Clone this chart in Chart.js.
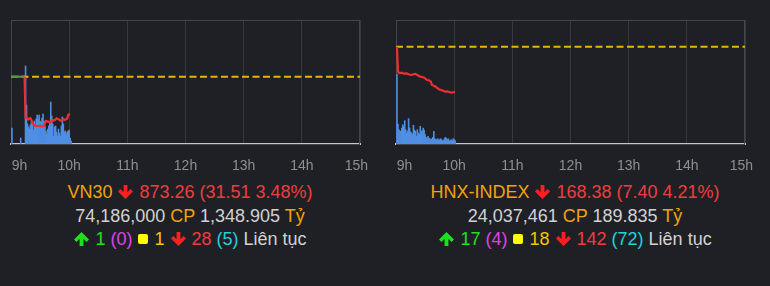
<!DOCTYPE html>
<html>
<head>
<meta charset="utf-8">
<script src="https://cdn.jsdelivr.net/npm/chart.js@4.4.1/dist/chart.umd.min.js"></script>
<style>
body{margin:0;background:#1f2025;width:770px;height:286px;overflow:hidden;font-family:"Liberation Sans",Arial,sans-serif;}
.panel{position:absolute;top:0;width:380px;height:286px;}
.panel canvas{position:absolute;left:0;top:0;}
.info{position:absolute;top:181px;left:0;width:380px;text-align:center;font-size:18px;line-height:23.5px;color:#d2d2d2;white-space:nowrap;}
.o{color:#f5a20c}
.r{color:#ef3d3d}
.g{color:#1ee01e}
.m{color:#e040e8}
.y{color:#f2c500}
.c{color:#22d0dc}
.ar{vertical-align:-1px;margin:0 1px}
.sq{display:inline-block;width:10px;height:10px;background:#ffff00;border-radius:2px;vertical-align:1px;margin:0 1px}
</style>
</head>
<body>

<div class="panel" style="left:0">
  <canvas id="vn30" width="380" height="180"></canvas>
  <div class="info">
    <div><span class="o">VN30</span> <svg class="ar" width="15" height="14" viewBox="0 0 15 14"><path d="M5.6 0H9.4V7.2L12.6 4L15 6.4L7.5 13.9L0 6.4L2.4 4L5.6 7.2Z" fill="#ff1f1f"/></svg> <span class="r">873.26 (31.51 3.48%)</span></div>
    <div>74,186,000 <span class="o">CP</span> 1,348.905 <span class="o">Tỷ</span></div>
    <div><svg class="ar" width="15" height="14" viewBox="0 0 15 14"><path d="M5.6 14H9.4V6.8L12.6 10L15 7.6L7.5 0.1L0 7.6L2.4 10L5.6 6.8Z" fill="#1ee01e"/></svg> <span class="g">1</span> <span class="m">(0)</span> <i class="sq"></i> <span class="y">1</span> <svg class="ar" width="15" height="14" viewBox="0 0 15 14"><path d="M5.6 0H9.4V7.2L12.6 4L15 6.4L7.5 13.9L0 6.4L2.4 4L5.6 7.2Z" fill="#ff1f1f"/></svg> <span class="r">28</span> <span class="c">(5)</span> Liên tục</div>
  </div>
</div>

<div class="panel" style="left:385px">
  <canvas id="hnx" width="380" height="180"></canvas>
  <div class="info">
    <div><span class="o">HNX-INDEX</span> <svg class="ar" width="15" height="14" viewBox="0 0 15 14"><path d="M5.6 0H9.4V7.2L12.6 4L15 6.4L7.5 13.9L0 6.4L2.4 4L5.6 7.2Z" fill="#ff1f1f"/></svg> <span class="r">168.38 (7.40 4.21%)</span></div>
    <div>24,037,461 <span class="o">CP</span> 189.835 <span class="o">Tỷ</span></div>
    <div><svg class="ar" width="15" height="14" viewBox="0 0 15 14"><path d="M5.6 14H9.4V6.8L12.6 10L15 7.6L7.5 0.1L0 7.6L2.4 10L5.6 6.8Z" fill="#1ee01e"/></svg> <span class="g">17</span> <span class="m">(4)</span> <i class="sq"></i> <span class="y">18</span> <svg class="ar" width="15" height="14" viewBox="0 0 15 14"><path d="M5.6 0H9.4V7.2L12.6 4L15 6.4L7.5 13.9L0 6.4L2.4 4L5.6 7.2Z" fill="#ff1f1f"/></svg> <span class="r">142</span> <span class="c">(72)</span> Liên tục</div>
  </div>
</div>

<script>
// Hour labels for the session axis (minutes after 9:00, one label every 60 min)
const hourTicks = ['9h', '10h', '11h', '12h', '13h', '14h', '15h'];

// VN30 - reference price, index line (minute, value), volume (minute, thousand shares)
const vn30Ref = 904.77;
const vn30LineMin = [0, 14, 15, 17, 18, 20, 21, 22, 24, 25, 27, 29, 30, 32, 34, 35, 36, 38, 39, 40, 42, 43, 44, 46, 47, 49, 50, 51, 53, 54, 55, 57, 58, 59, 60, 61];
const vn30Line = [904.77, 904.77, 870.10, 869.78, 868.94, 869.78, 868.38, 865.58, 864.18, 863.62, 863.34, 863.34, 863.62, 862.78, 863.34, 865.58, 867.54, 866.98, 866.98, 866.14, 867.82, 868.38, 867.82, 868.94, 869.78, 868.94, 868.38, 867.82, 868.38, 868.94, 868.38, 868.94, 869.78, 872.59, 873.10, 873.26];
const vn30VolMin = [1, 10, 15, 16, 17, 18, 19, 20, 21, 22, 23, 24, 25, 26, 27, 28, 29, 30, 31, 32, 33, 34, 35, 36, 37, 38, 39, 40, 41, 42, 43, 44, 45, 46, 47, 48, 49, 50, 51, 52, 53, 54, 55, 56, 57, 58, 59, 60, 61, 62];
const vn30Vol = [1280, 480, 6240, 3120, 1600, 1360, 1200, 1520, 1760, 1600, 1120, 1840, 1520, 2000, 2320, 2000, 2320, 1840, 1760, 2080, 2400, 1840, 1440, 1040, 800, 1200, 1440, 1760, 3360, 2240, 1600, 640, 1360, 1440, 960, 640, 1200, 880, 640, 1440, 2160, 1600, 960, 1040, 800, 960, 1040, 1120, 480, 240];

// HNX-INDEX
const hnxRef = 175.78;
const hnxLineMin = [0, 1, 2, 4, 6, 8, 11, 13, 15, 18, 20, 22, 25, 27, 29, 30, 32, 34, 36, 37, 39, 41, 42, 44, 46, 48, 49, 51, 53, 54, 56, 58, 60, 61];
const hnxLine = [175.78, 175.78, 171.67, 171.40, 171.51, 171.34, 171.40, 171.24, 171.13, 171.24, 171.29, 171.13, 170.85, 170.80, 170.69, 170.58, 170.30, 170.25, 170.03, 169.48, 169.37, 169.21, 169.04, 168.82, 168.66, 168.60, 168.49, 168.38, 168.44, 168.38, 168.27, 168.22, 168.33, 168.38];
const hnxVolMin = [1, 2, 3, 4, 5, 6, 7, 8, 9, 10, 11, 12, 13, 14, 15, 16, 17, 18, 19, 20, 21, 22, 23, 24, 25, 26, 27, 28, 29, 30, 31, 32, 33, 34, 35, 36, 37, 38, 39, 40, 41, 42, 43, 44, 45, 46, 47, 48, 49, 50, 51, 52, 53, 54, 55, 56, 57, 58, 59, 60, 61];
const hnxVol = [2800, 800, 572, 520, 508, 640, 772, 680, 932, 572, 440, 520, 1012, 640, 480, 440, 372, 748, 560, 508, 308, 572, 440, 372, 708, 520, 508, 640, 560, 372, 268, 212, 308, 240, 212, 172, 200, 268, 508, 212, 180, 172, 212, 172, 160, 212, 172, 132, 140, 212, 268, 220, 172, 212, 132, 140, 172, 108, 212, 180, 132];

const UP = '#4f9a3c', DOWN = '#ee2f2f', REF = '#e7b400', BAR = '#4f8fe3';

// Plot frame + hour labels (labels kept inside the panel like the original)
const framePlugin = {
    id: 'frame',
    beforeDatasetsDraw(chart) {
        const a = chart.chartArea, c = chart.ctx;
        c.save();
        c.strokeStyle = '#45464b';
        c.lineWidth = 1;
        c.strokeRect(a.left + 0.5, a.top + 0.5, a.right - a.left - 1, a.bottom - a.top);
        c.restore();
    },
    afterDraw(chart) {
        const a = chart.chartArea, c = chart.ctx, xs = chart.scales.x;
        c.save();
        c.font = '14px "Liberation Sans", Arial, sans-serif';
        c.fillStyle = '#8f8f8f';
        c.textBaseline = 'middle';
        c.textAlign = 'left';
        xs.ticks.forEach(t => {
            const label = hourTicks[Math.round(t.value / 60)];
            const w = c.measureText(label).width;
            let left = xs.getPixelForValue(t.value) - w / 2;
            if (left < a.left + 0.7) left = a.left + 0.7;
            if (left + w > a.right + 8) left = a.right + 8 - w;
            c.fillText(label, left, a.bottom + 22);
        });
        c.restore();
    }
};

function drawChart(id, lineMin, line, volMin, vol, ref, yMin, yMax, volMax) {
    const ctx = document.getElementById(id);
    return new Chart(ctx, {
        type: 'line',
        data: {
            datasets: [
                {
                    data: lineMin.map((m, i) => ({x: m, y: line[i]})),
                    borderWidth: 2.2,
                    pointRadius: 0,
                    tension: 0,
                    yAxisID: 'y',
                    order: 0,
                    segment: {
                        borderColor: s => (s.p1.parsed.y >= ref && s.p0.parsed.y >= ref) ? UP : DOWN
                    }
                },
                {
                    data: [{x: 0, y: ref}, {x: 360, y: ref}],
                    borderColor: REF,
                    borderWidth: 2,
                    borderDash: [7, 3.5],
                    pointRadius: 0,
                    yAxisID: 'y',
                    order: 1
                },
                {
                    type: 'bar',
                    data: volMin.map((m, i) => ({x: m, y: vol[i]})),
                    backgroundColor: BAR,
                    borderWidth: 0,
                    barPercentage: 1,
                    categoryPercentage: 1,
                    yAxisID: 'yv',
                    order: 2
                }
            ]
        },
        options: {
            responsive: false,
            animation: false,
            layout: {padding: {left: 11, right: 20, top: 20, bottom: 36}},
            plugins: {legend: {display: false}, tooltip: {enabled: false}},
            events: [],
            scales: {
                x: {
                    type: 'linear',
                    min: 0,
                    max: 360,
                    offset: false,
                    ticks: {display: false, stepSize: 60},
                    grid: {color: '#38393e', drawTicks: false, offset: false},
                    border: {display: true, color: '#c3c7d1', width: 2}
                },
                y: {display: false, min: yMin, max: yMax},
                yv: {display: false, min: 0, max: volMax}
            }
        },
        plugins: [framePlugin]
    });
}

drawChart('vn30', vn30LineMin, vn30Line, vn30VolMin, vn30Vol, vn30Ref, 848.2, 952.4, 9920);
drawChart('hnx', hnxLineMin, hnxLine, hnxVolMin, hnxVol, hnxRef, 159.78, 180.17, 4960);
</script>
</body>
</html>
